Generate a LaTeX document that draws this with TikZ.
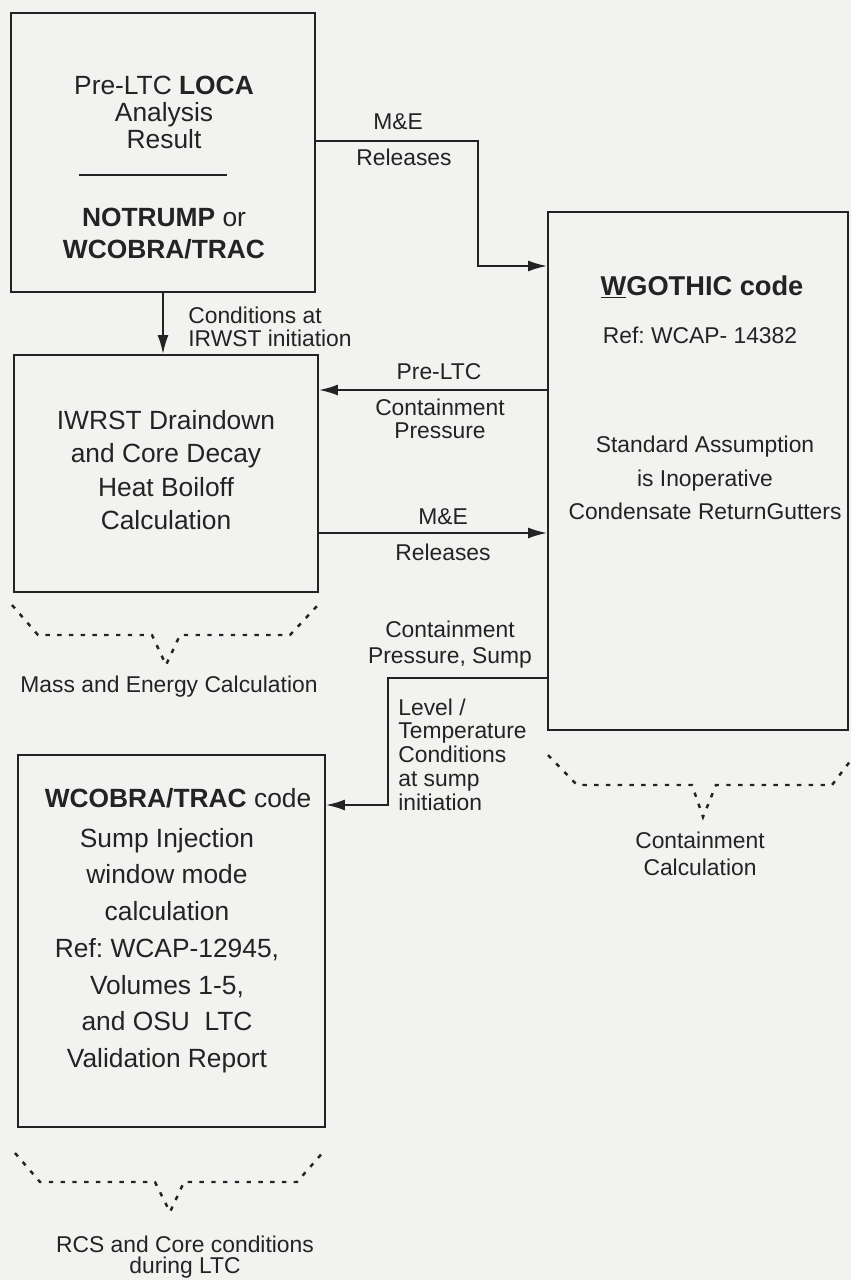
\documentclass[tikz,border=0pt]{standalone}
\usepackage{fontspec}
\setmainfont{Liberation Sans}
\usetikzlibrary{arrows.meta}
\definecolor{paper}{RGB}{242,242,240}
\definecolor{ink}{RGB}{35,35,35}
\frenchspacing
\begin{document}
\begin{tikzpicture}[x=0.02cm,y=-0.02cm,
  box/.style={draw=ink, line width=1.1pt, rectangle, inner sep=0pt},
  txt/.style={text=ink, align=center, inner sep=0pt, font=\fontsize{15}{21}\selectfont},
  lbl/.style={text=ink, align=center, inner sep=0pt, font=\fontsize{13}{13}\selectfont},
  flow/.style={draw=ink, line width=1.1pt, -{Latex[length=3.8mm,width=2.2mm]}},
  brace/.style={draw=ink, line width=1.4pt, dash pattern=on 2.5pt off 4.2pt}]
\fill[paper] (0,0) rectangle (851,1280);
\useasboundingbox (0,0) rectangle (851,1280);

\node[box, minimum width=6.08cm, minimum height=5.58cm] (lossres) at (163,152.5) {};
\node[box, minimum width=6.08cm, minimum height=4.74cm] (iwrst) at (166,473.5) {};
\node[box, minimum width=6cm, minimum height=10.36cm] (wgothic) at (698,471) {};
\node[box, minimum width=6.14cm, minimum height=7.44cm] (wcobra) at (171.5,941) {};

\node[txt, font=\fontsize{15}{15.6}\selectfont] (losstxt) at (164,112.5) {Pre-LTC \textbf{LOCA}\\Analysis\\Result};
\draw[ink, line width=1.1pt] (79,175) -- (227,175);
\node[txt, font=\fontsize{15}{18.7}\selectfont] (codetxt) at (164,233.5) {\textbf{NOTRUMP} or\\\textbf{WCOBRA/TRAC}};
\node[txt, font=\fontsize{15}{19}\selectfont] (iwrsttxt) at (166,470) {IWRST Draindown\\and Core Decay\\Heat Boiloff\\Calculation};

\node[txt, font=\fontsize{15.5}{18}\selectfont\bfseries] (wgtitle) at (702,287) {\underline{W}GOTHIC code};
\node[lbl] (wgref) at (700,335) {Ref: WCAP- 14382};
\node[lbl, font=\fontsize{13}{19}\selectfont] (wgnote) at (705,478) {Standard Assumption\\is Inoperative\\Condensate ReturnGutters};

\node[txt] (wctitle) at (178,798) {\textbf{WCOBRA/TRAC} code};
\node[txt, font=\fontsize{15}{20.9}\selectfont] (wcnote) at (167,950.5) {Sump Injection\\window mode\\calculation\\Ref: WCAP-12945,\\Volumes 1-5,\\and OSU\ \ LTC\\Validation Report};

\node[lbl] (me1) at (398,122) {M\&E};
\node[lbl] (rel1) at (404,157) {Releases};
\node[lbl, align=left, anchor=west] (cond1) at (188,326.5) {Conditions at\\IRWST initiation};
\node[lbl] (pre) at (439,372) {Pre-LTC};
\node[lbl] (cpress) at (440,418.5) {Containment\\Pressure};
\node[lbl] (me2) at (443,517) {M\&E};
\node[lbl] (rel2) at (443,552) {Releases};
\node[lbl, font=\fontsize{13}{14.7}\selectfont] (sump1) at (450,645) {Containment\\Pressure, Sump};
\node[lbl, align=left, anchor=west, font=\fontsize{13}{13.5}\selectfont] (sump2) at (398,754.5) {Level /\\Temperature\\Conditions\\at sump\\initiation};

\draw[brace] (12,605) -- (38,635) -- (152,635) -- (166,665) -- (180,635) -- (290,635) -- (318,605);
\node[lbl] (mecalc) at (169,687) {Mass and Energy Calculation};
\draw[brace] (548,755) -- (577,785) -- (692,785) -- (703,817) -- (716,785) -- (832,785) -- (851,760);
\node[lbl, font=\fontsize{13}{15.3}\selectfont] (contcalc) at (700,853.5) {Containment\\Calculation};
\draw[brace] (15,1153) -- (40,1182) -- (155,1182) -- (170,1212) -- (184,1182) -- (297,1182) -- (325,1150);
\node[lbl, font=\fontsize{13}{12}\selectfont] (rcscalc) at (185,1257.5) {RCS and Core conditions\\during LTC};

\coordinate (mebend) at (478,141);
\coordinate (mein) at (478,266);
\draw[flow] (lossres.east |- mebend) -- (mebend) -- (mein) -- (mein -| wgothic.west);
\draw[flow] (lossres.south) -- (lossres.south |- iwrst.north);
\coordinate (preline) at (433,390);
\draw[flow] (preline -| wgothic.west) -- (preline -| iwrst.east);
\coordinate (meline) at (433,533);
\draw[flow] (meline -| iwrst.east) -- (meline -| wgothic.west);
\coordinate (sumpbend) at (388,678);
\coordinate (sumpdown) at (388,805);
\draw[flow] (sumpbend -| wgothic.west) -- (sumpbend) -- (sumpdown) -- (sumpdown -| wcobra.east);
\end{tikzpicture}
\end{document}
